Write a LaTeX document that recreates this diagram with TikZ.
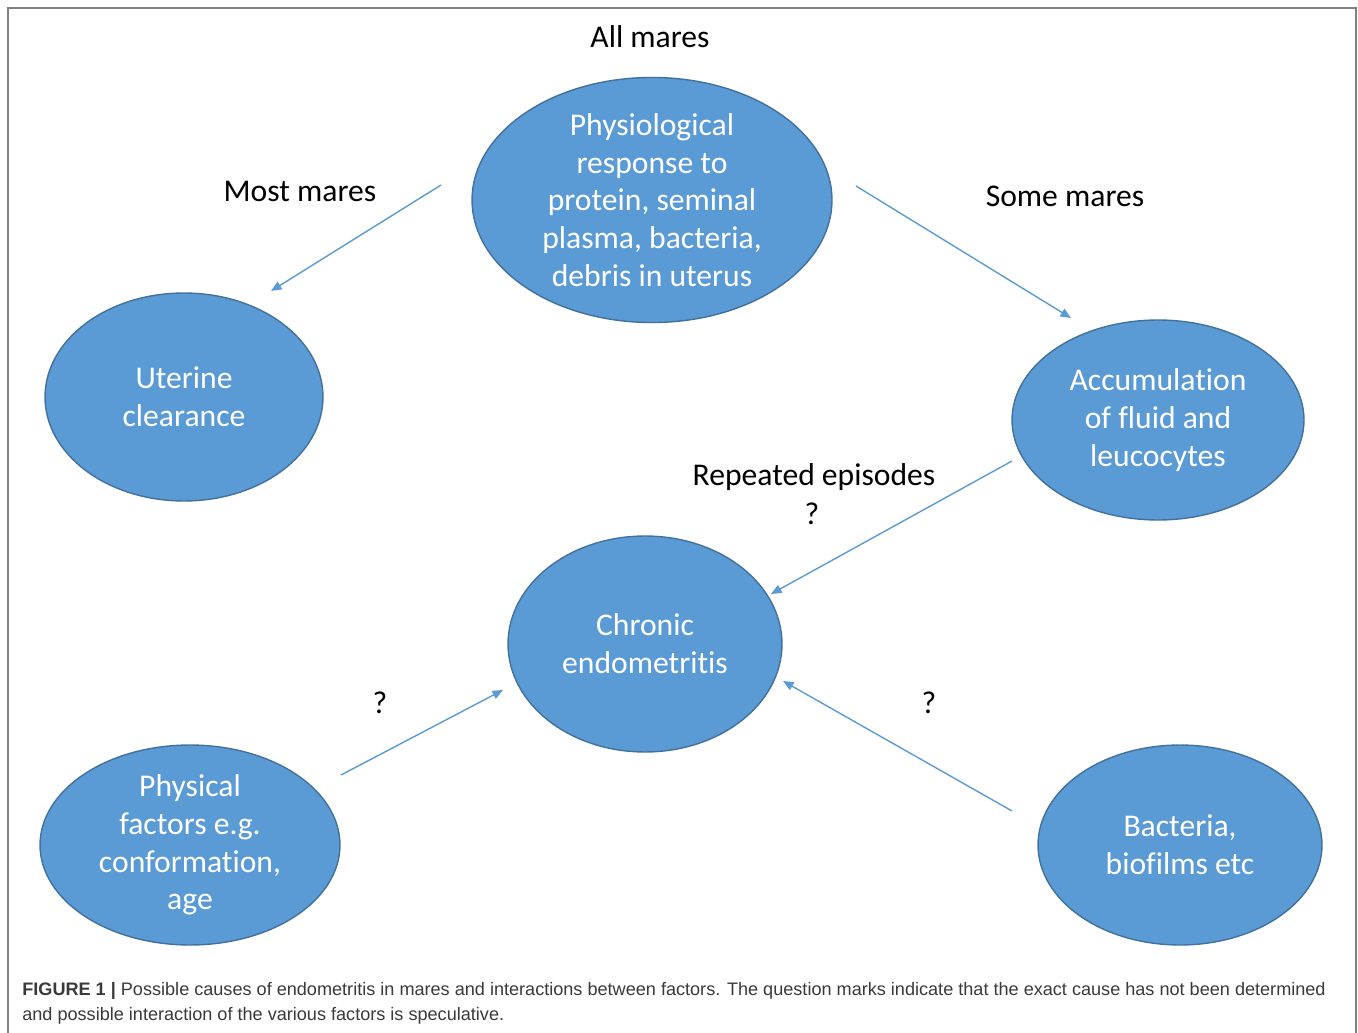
\documentclass[tikz,border=0pt]{standalone}
\usepackage{fontspec}
\setmainfont[Ligatures=NoCommon]{Carlito}
\newfontfamily\capfont{Liberation Sans}
\usetikzlibrary{shapes.geometric, arrows.meta}
\definecolor{blobfill}{HTML}{5B9BD5}
\definecolor{blobline}{HTML}{41719C}
\definecolor{capgray}{HTML}{3A3A3A}

\begin{document}
\begin{tikzpicture}[x=0.02cm, y=-0.02cm,
      blob/.style={ellipse, draw=blobline, line width=0.8pt, fill=blobfill, text=white, align=center, inner sep=0pt,
                   font=\fontsize{18}{21.5}\selectfont},
      lbl/.style={text=black, align=center, font=\fontsize{18}{21.5}\selectfont},
      link/.style={draw=blobfill, line width=0.8pt, -{Triangle[length=6pt, width=5pt]}} ]
      \useasboundingbox (0,0) rectangle (1358,1033);
      \draw[gray, line width=1.2pt] (8,1040)--(8,8)--(1356,8)--(1356,1040);
      \node[blob, minimum width=7.2cm, minimum height=4.88cm] (phys) at (652,200) {Physiological\\response to\\protein, seminal\\plasma, bacteria,\\debris in uterus};
      \node[blob, minimum width=5.56cm, minimum height=4.16cm] (clear) at (184,397) {Uterine\\clearance};
      \node[blob, minimum width=5.84cm, minimum height=4.0cm] (accum) at (1158,420) {Accumulation\\of fluid and\\leucocytes};
      \node[blob, minimum width=5.48cm, minimum height=4.32cm] (chron) at (645,644) {Chronic\\endometritis};
      \node[blob, minimum width=6.0cm, minimum height=4.0cm] (physf) at (190,845) {Physical\\factors e.g.\\conformation,\\age};
      \node[blob, minimum width=5.68cm, minimum height=4.0cm] (bact) at (1180,845) {Bacteria,\\biofilms etc};
      \node[lbl] (all) at (650,37) {All mares};
      \node[lbl] (most) at (300,191) {Most mares};
      \node[lbl] (some) at (1065,196) {Some mares};
      \node[lbl] (rep) at (814,477) {Repeated episodes};
      \node[lbl] (q1) at (812,514) {?};
      \node[lbl] (q2) at (380,703) {?};
      \node[lbl] (q3) at (929,703) {?};
      % arrow ends
      \coordinate (s1) at (441,185); \coordinate (e1) at (271,291);
      \coordinate (s2) at (856,186); \coordinate (e2) at (1071,318);
      \coordinate (s3) at (1012,461); \coordinate (e3) at (771,594);
      \coordinate (s4) at (341,775); \coordinate (e4) at (503,690);
      \coordinate (s5) at (1012,811); \coordinate (e5) at (783,681);
      \draw[link] (s1)--(e1);
      \draw[link] (s2)--(e2);
      \draw[link] (s3)--(e3);
      \draw[link] (s4)--(e4);
      \draw[link] (s5)--(e5);
      % caption
      \node[anchor=base west, inner sep=0pt, text=capgray, font=\capfont\fontsize{10.3}{14}\selectfont] (cap1) at (22,995)
        {\textbf{FIGURE 1 |} Possible causes of endometritis in mares and interactions between factors. The question marks indicate that the exact cause has not been determined};
      \node[anchor=base west, inner sep=0pt, text=capgray, font=\capfont\fontsize{10.3}{14}\selectfont] (cap2) at (22,1020)
        {and possible interaction of the various factors is speculative.};
\end{tikzpicture}
\end{document}
